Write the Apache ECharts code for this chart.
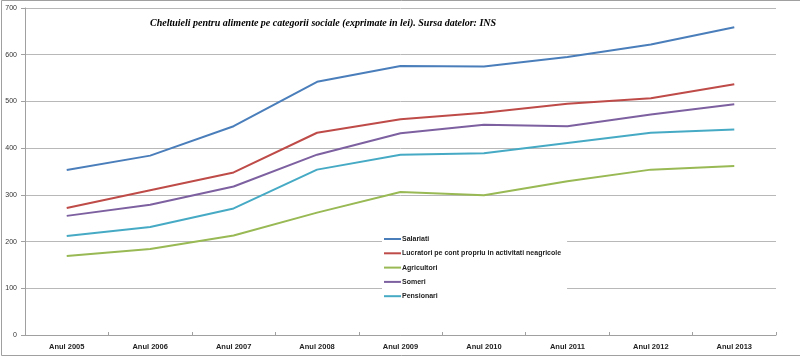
<!DOCTYPE html>
<html>
<head>
<meta charset="utf-8">
<script src="https://cdn.jsdelivr.net/npm/echarts@6/dist/echarts.min.js"></script>
<style>
html,body{margin:0;padding:0;background:#fff;}
#chart{width:800px;height:359px;}
</style>
</head>
<body>
<div id="chart"></div>
<script>
var categories = ['Anul 2005','Anul 2006','Anul 2007','Anul 2008','Anul 2009','Anul 2010','Anul 2011','Anul 2012','Anul 2013'];
var salariati   = [353, 384, 447, 542, 576, 575, 595, 622, 659];
var lucratori   = [272, 310, 348, 433, 462, 476, 495, 507, 537];
var agricultori = [169, 184, 213, 262, 306, 299, 329, 354, 362];
var someri      = [255, 279, 318, 386, 432, 450, 447, 472, 494];
var pensionari  = [212, 231, 271, 354, 386, 389, 411, 433, 440];
var seriesNames = ['Salariati','Lucratori pe cont propriu in activitati neagricole','Agricultori','Someri','Pensionari'];
var colors = ['#4A7EBB','#BE4B48','#98B954','#7D60A0','#46AAC5'];
var titleText = 'Cheltuieli pentru alimente pe categorii sociale (exprimate in lei). Sursa datelor: INS';

var chart = echarts.init(document.getElementById('chart'), null, {renderer:'canvas'});
var allData = [salariati, lucratori, agricultori, someri, pensionari];
var series = allData.map(function(d, i){
  return {
    name: seriesNames[i], type:'line', data: d, symbol:'none', smooth:false,
    lineStyle:{color:colors[i], width:2}, itemStyle:{color:colors[i]}, z: 3
  };
});
chart.setOption({
  animation:false,
  backgroundColor:'#fff',
  title:{
    text: titleText, left:145, top:13,
    textStyle:{fontFamily:'Liberation Serif', fontStyle:'italic', fontWeight:'bold', fontSize:10, color:'#000'}
  },
  graphic:[{
    type:'polyline', silent:true,
    shape:{points:[[900,0.5],[1.5,0.5],[1.5,355.5],[900,355.5]]},
    style:{stroke:'#a0a0a0', lineWidth:1, fill:null}
  }],
  legend:{
    orient:'vertical', left:382, top:232,
    backgroundColor:'#fff', padding:[2,6,2,2],
    icon:'rect', itemWidth:17, itemHeight:2, itemGap:4.3,
    textStyle:{fontFamily:'Liberation Sans', fontWeight:'bold', fontSize:7, color:'#222', lineHeight:10, padding:[0,0,0,-4]},
    data: seriesNames.map(function(n,i){return {name:n, itemStyle:{color:colors[i]}};})
  },
  grid:{left:25, right:24, top:8, bottom:24, containLabel:false},
  xAxis:{
    type:'category', data:categories, boundaryGap:true,
    axisLine:{lineStyle:{color:'#a0a0a0', width:1}},
    axisTick:{show:true, inside:true, length:3, lineStyle:{color:'#a0a0a0'}},
    axisLabel:{fontFamily:'Liberation Sans', fontWeight:'bold', fontSize:7.5, color:'#222', margin:8}
  },
  yAxis:{
    type:'value', min:0, max:700, interval:100,
    axisLine:{show:true, lineStyle:{color:'#a0a0a0', width:1}},
    axisTick:{show:true, length:4, lineStyle:{color:'#a0a0a0'}},
    axisLabel:{fontFamily:'Liberation Sans', fontSize:7, color:'#333', margin:8},
    splitLine:{lineStyle:{color:'#b8b8b8', width:1}}
  },
  series: series
});
</script>
</body>
</html>
